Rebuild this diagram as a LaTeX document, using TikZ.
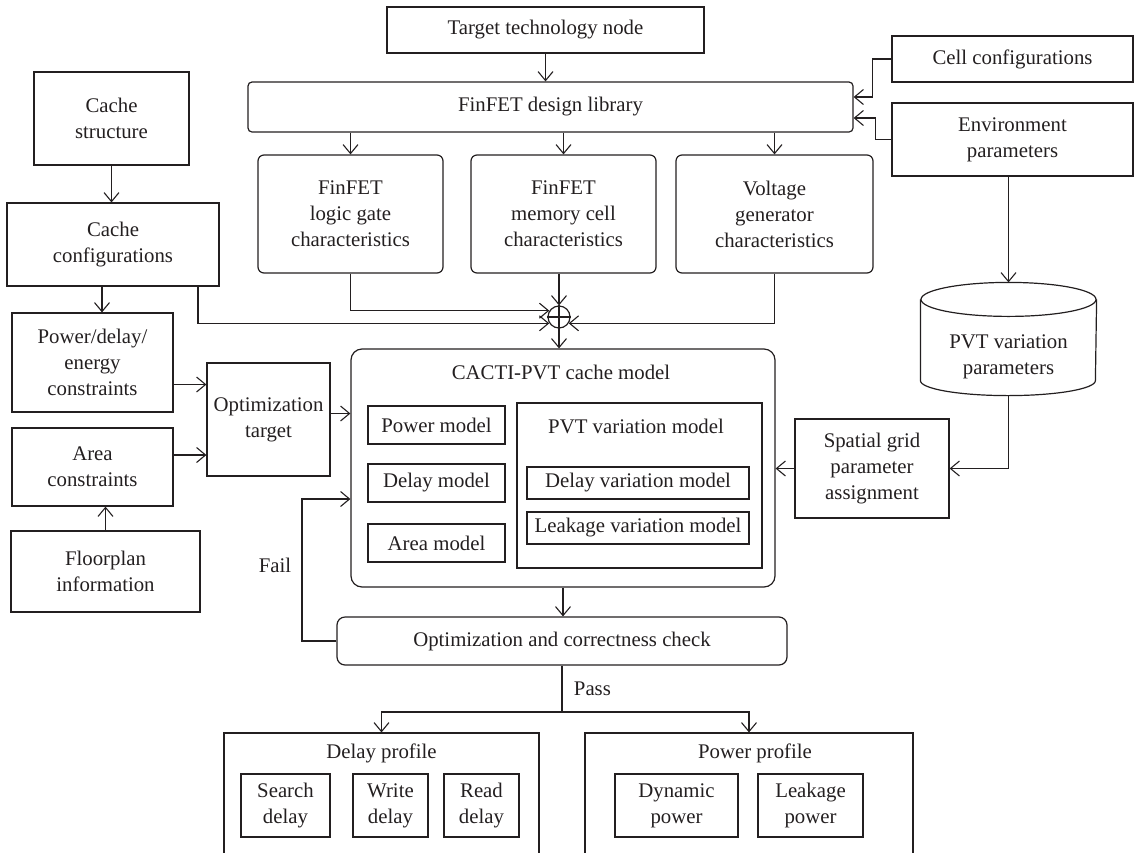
\documentclass[tikz,border=0pt]{standalone}
\usepackage{fontspec}
\setmainfont{Liberation Serif}
\usetikzlibrary{arrows.meta}
\definecolor{ink}{RGB}{35,31,32}

\begin{document}
\begin{tikzpicture}[x=1pt,y=-1pt,line width=1.2pt,ink,
  font=\fontsize{20.8}{26}\selectfont,
  box/.style={draw,align=center,inner sep=0pt},
  rbox/.style={box,rounded corners=6pt},
  >={Straight Barb[length=9pt,width=15pt,line width=1.1pt]}]
\path[use as bounding box] (0,0) rectangle (1135,852);
\clip (0,0) rectangle (1135,852);

% top row
\node[box,minimum width=317,minimum height=46] (target) at (545.5,30) {Target technology node};
\node[rbox,minimum width=605,minimum height=50,rounded corners=4pt] (lib) at (550.5,107) {FinFET design library};
\node[box,minimum width=241,minimum height=46] (cellcfg) at (1012.5,59) {Cell configurations};
\node[box,minimum width=241,minimum height=73] (env) at (1012.5,139.5) {Environment\\parameters};

\node[rbox,minimum width=185,minimum height=118] (lg) at (350.5,214) {FinFET\\logic gate\\characteristics};
\node[rbox,minimum width=185,minimum height=118] (mc) at (563.5,214) {FinFET\\memory cell\\characteristics};
\node[rbox,minimum width=197,minimum height=118] (vg) at (774.5,214) {Voltage\\generator\\characteristics};

\node[draw,circle,minimum size=22,inner sep=0pt] (plus) at (559,317) {};
\draw (plus.north) -- (plus.south) (plus.west) -- (plus.east);

% left column
\node[box,minimum width=155,minimum height=93] (cstruct) at (111.5,118.5) {Cache\\structure};
\node[box,minimum width=212,minimum height=83] (ccfg) at (113,244.5) {Cache\\configurations};
\node[box,minimum width=161,minimum height=99] (pde) at (92.5,362.5) {Power/delay/\\energy\\constraints};
\node[box,minimum width=161,minimum height=78] (area) at (92.5,467) {Area\\constraints};
\node[box,minimum width=189,minimum height=81] (floor) at (105.5,571.5) {Floorplan\\information};
\node[box,minimum width=123,minimum height=113] (opttgt) at (268.5,419.5) {Optimization\\target};

% cache model
\node[rbox,minimum width=424,minimum height=238,rounded corners=11pt] (cacti) at (563,468) {};
\node (cactit) at (561,372) {CACTI-PVT cache model};
\node[box,minimum width=137,minimum height=38] (pm) at (436.5,425) {Power model};
\node[box,minimum width=137,minimum height=38] (dm) at (436.5,483) {Delay model};
\node[box,minimum width=137,minimum height=38] (am) at (436.5,543) {Area model};
\node[box,minimum width=245,minimum height=165] (pvt) at (639.5,485.5) {};
\node (pvtt) at (636,426) {PVT variation model};
\node[box,minimum width=222,minimum height=32] (dvm) at (638,483) {Delay variation model};
\node[box,minimum width=222,minimum height=32] (lvm) at (638,528) {Leakage variation model};

% right side
\node[minimum width=175,minimum height=112,inner sep=0pt] (cyl) at (1008.5,339) {};
\draw ([yshift=-17pt]cyl.north) ellipse[x radius=87.5pt,y radius=17pt];
\draw ([yshift=-17pt]cyl.north west) -- ([yshift=15pt]cyl.south west)
  arc[start angle=180,end angle=360,x radius=87.5pt,y radius=15pt] -- ([yshift=-17pt]cyl.north east);
\node[align=center] (cylt) at (1008.5,357) {PVT variation\\parameters};
\node[box,minimum width=154,minimum height=99] (sg) at (872,468.5) {Spatial grid\\parameter\\assignment};

% check and profiles
\node[rbox,minimum width=450,minimum height=48,rounded corners=8pt] (optchk) at (562,641) {Optimization and correctness check};
\node (fail) at (275,565) {Fail};
\node[anchor=west] (pass) at (570,689) {Pass};
\coordinate (fl) at (302,499);
\coordinate (br) at (562,712);

\node[box,minimum width=315,minimum height=137] (dprof) at (381.5,801.5) {};
\node (dproft) at (381.5,753) {Delay profile};
\node[box,minimum width=89,minimum height=63] (sd) at (285.5,805.5) {Search\\delay};
\node[box,minimum width=75,minimum height=63] (wd) at (390.5,805.5) {Write\\delay};
\node[box,minimum width=75,minimum height=63] (rd) at (481.5,805.5) {Read\\delay};

\node[box,minimum width=328,minimum height=137] (pprof) at (749,801.5) {};
\node (pproft) at (755,753) {Power profile};
\node[box,minimum width=123,minimum height=63] (dp) at (676.5,805.5) {Dynamic\\power};
\node[box,minimum width=105,minimum height=63] (lp) at (810.5,805.5) {Leakage\\power};

% connectors
\draw[->] (target.south) -- (target.south |- lib.north);
\draw[->] (cellcfg.west) -- ++(-19,0) |- ([yshift=10pt]lib.east);
\draw[->] (env.west) -- ++(-16,0) |- ([yshift=-11pt]lib.east);
\draw[->] (lib.south -| lg.north) -- (lg.north);
\draw[->] (lib.south -| mc.north) -- (mc.north);
\draw[->] (lib.south -| vg.north) -- (vg.north);
\draw[->] (lg.south) |- (plus.147);
\draw[->] (plus.north |- mc.south) -- (plus.north);
\draw[->] (vg.south) |- (plus.327);
\draw[->] ([xshift=85pt]ccfg.south) |- (plus.213);
\draw[->] (plus.south) -- (plus.south |- cacti.north);

\draw[->] (cstruct.south) -- (cstruct.south |- ccfg.north);
\draw[->] ([xshift=-11pt]ccfg.south) -- ([xshift=-11pt]ccfg.south |- pde.north);
\draw[->] (floor.north) -- (floor.north |- area.south);
\draw[->] ([yshift=-22pt]pde.east) -- ([yshift=-22pt]pde.east -| opttgt.west);
\draw[->] ([yshift=12pt]area.east) -- ([yshift=12pt]area.east -| opttgt.west);
\draw[->] ([yshift=6pt]opttgt.east) -- ([yshift=6pt]opttgt.east -| cacti.west);

\draw[->] (env.south -| cyl.north) -- (cyl.north);
\draw[->] (cyl.south) |- (sg.east);
\draw[->] (sg.west) -- (sg.west -| cacti.east);

\draw[->] (cacti.south) -- (cacti.south |- optchk.north);
\draw[->] (optchk.west) -| (fl) -- (fl -| cacti.west);
\draw (optchk.south) -- (br);
\draw[->] (br) -| (dprof.north);
\draw[->] (br) -| (pprof.north);
\end{tikzpicture}
\end{document}
